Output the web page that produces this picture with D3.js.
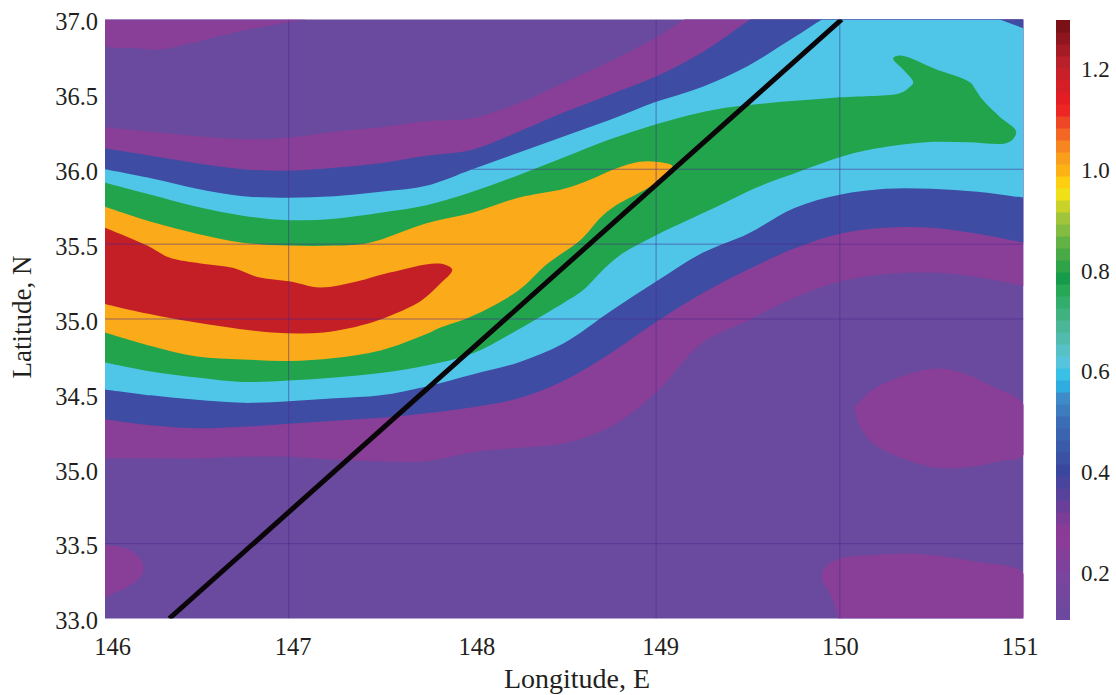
<!DOCTYPE html>
<html>
<head>
<meta charset="utf-8">
<script src="https://cdn.jsdelivr.net/npm/d3@7"></script>
<style>
html,body{margin:0;padding:0;background:#fff;}
text{font-family:"Liberation Serif",serif;fill:#231f20;}
</style>
</head>
<body>
<div id="chart"></div>
<script>
// tick labels, the "35.0" in the third slot from the bottom is in the original figure
var lonTicks = [146,147,148,149,150,151];
var latTicks = [33,33.5,34,34.5,35,35.5,36,36.5,37];
var latLabels = ["33.0","33.5","35.0","34.5","35.0","35.5","36.0","36.5","37.0"];
var barTicks = [0.2,0.4,0.6,0.8,1.0,1.2];
var gridLons = [147,149,150];
var gridLats = [33,33.5,35,35.5,36,37];
var gridLatStart = [146,146,146,146,148,146];

// long isolines, latitude read every 0.25 degree of longitude
var lonGrid = [146,146.25,146.5,146.75,147,147.25,147.5,147.75,148,148.25,148.5,148.75,149,149.25,149.5,149.75,150,150.25,150.5,150.75,151];
var magentaTop = [36.28,36.25,36.22,36.20,36.21,36.25,36.28,36.32,36.34,36.44,36.58,36.72,36.88,37.08,37.3,37.3,37.3,37.3,37.3,37.3,37.3];
var magentaBottom = [34.07,34.07,34.07,34.08,34.08,34.06,34.05,34.05,34.11,34.14,34.17,34.28,34.51,34.84,34.99,35.14,35.25,35.30,35.31,35.28,35.22];
var blueTop = [36.14,36.09,36.04,36.00,35.99,36.01,36.04,36.09,36.13,36.25,36.38,36.50,36.62,36.78,36.99,37.2,37.3,37.3,37.3,37.3,37.3];
var blueBottom = [34.33,34.29,34.27,34.28,34.30,34.32,34.34,34.37,34.41,34.47,34.59,34.77,34.98,35.17,35.33,35.47,35.57,35.61,35.61,35.57,35.51];
var cyanTop = [36.00,35.94,35.87,35.82,35.81,35.82,35.85,35.89,36.00,36.11,36.22,36.33,36.45,36.55,36.69,36.88,37.06,37.12,37.12,37.05,36.94];
var cyanBottom = [34.53,34.49,34.46,34.44,34.45,34.47,34.49,34.55,34.63,34.71,34.84,35.05,35.25,35.44,35.57,35.74,35.83,35.87,35.87,35.85,35.81];

// closed shapes as [lon, lat]
var greenShape = [[146,35.91],[146.25,35.83],[146.5,35.75],[146.75,35.69],[147,35.66],[147.25,35.67],[147.5,35.71],[147.75,35.76],[148,35.85],[148.25,35.96],[148.5,36.08],[148.75,36.20],[149,36.30],[149.25,36.38],[149.44,36.42],[150,36.48],[150.33,36.51],[150.38,36.55],[150.40,36.58],[150.35,36.66],[150.29,36.74],[150.33,36.76],[150.52,36.67],[150.71,36.58],[150.74,36.53],[150.78,36.46],[150.87,36.35],[150.96,36.25],[150.92,36.18],[150.70,36.18],[150.47,36.18],[150.16,36.13],[150,36.08],[149.77,35.98],[149.55,35.88],[149.33,35.75],[149,35.56],[148.82,35.44],[148.73,35.35],[148.60,35.19],[148.5,35.11],[148.25,34.93],[148,34.77],[147.75,34.69],[147.5,34.64],[147.25,34.61],[147,34.59],[146.75,34.58],[146.5,34.61],[146.25,34.65],[146,34.71]];
var orangeShape = [[146,35.75],[146.25,35.65],[146.5,35.57],[146.75,35.51],[147,35.49],[147.25,35.49],[147.44,35.51],[147.75,35.64],[148,35.71],[148.25,35.81],[148.5,35.87],[148.64,35.93],[148.77,36.00],[148.91,36.05],[149,36.05],[149.09,36.02],[149,35.91],[148.77,35.75],[148.70,35.68],[148.59,35.53],[148.41,35.37],[148.25,35.19],[148,35.02],[147.82,34.94],[147.75,34.90],[147.5,34.79],[147.25,34.74],[147,34.72],[146.75,34.73],[146.5,34.75],[146.25,34.82],[146,34.91]];
var redShape = [[146,35.61],[146.23,35.49],[146.35,35.41],[146.52,35.37],[146.70,35.34],[146.83,35.28],[147.01,35.25],[147.17,35.21],[147.37,35.25],[147.55,35.31],[147.82,35.37],[147.89,35.33],[147.82,35.23],[147.73,35.13],[147.66,35.08],[147.46,34.98],[147.19,34.91],[146.91,34.91],[146.64,34.95],[146.34,35.01],[146.10,35.07],[146,35.10]];
var topPatch = [[146,37],[146,36.83],[146.15,36.81],[146.30,36.80],[146.46,36.84],[146.73,36.92],[146.99,36.98],[147.10,37]];
var leftPatch = [[146,33.49],[146.13,33.46],[146.20,33.38],[146.21,33.32],[146.16,33.24],[146.07,33.18],[146,33.14]];
var ovalPatch = [[150.08,34.41],[150.18,34.53],[150.37,34.63],[150.53,34.67],[150.67,34.64],[150.83,34.55],[151,34.43],[151,34.09],[150.87,34.05],[150.69,34.01],[150.51,34.01],[150.34,34.07],[150.18,34.17],[150.10,34.31],[150.08,34.41]];
var cornerPatch = [[149.99,33],[149.97,33.10],[149.93,33.20],[149.90,33.27],[149.92,33.34],[150,33.40],[150.13,33.42],[150.44,33.43],[150.73,33.38],[151,33.30],[151,33]];
var trackLine = [[146.35,33],[150.01,37]];

// colour bar stops
var barValues = [0.105,0.2,0.277,0.4,0.5,0.547,0.58,0.62,0.684,0.766,0.78,0.85,0.905,0.96,0.99,1.035,1.09,1.125,1.215,1.296];
var barColors = ["#6a4a9e","#7b449e","#8f3a96","#3a469e","#3a6eb5","#3f8ccb","#28bdeb","#5bc5dc","#4db89a","#24a750","#129a4a","#5bb046","#a4c63a","#ffe510","#fdb813","#f99520","#ef4b25","#ed1c24","#b9202a","#6e0f14"];

function init(){
    var w = 1116, h = 695;
    var left = 105, right = 1023.5, top = 19.5, bottom = 618.5;

    var svg = d3.select("#chart").append("svg")
        .attr("width",w)
        .attr("height",h)
        .style("display","block");

    var xScale = d3.scaleLinear().domain([146,151]).range([left,right]);
    var yScale = d3.scaleLinear().domain([33,37]).range([bottom,top]);

    svg.append("clipPath").attr("id","plot")
        .append("rect")
        .attr("x",left).attr("y",top)
        .attr("width",right-left).attr("height",bottom-top);

    var plot = svg.append("g").attr("clip-path","url(#plot)");

    plot.append("rect")
        .attr("x",left).attr("y",top)
        .attr("width",right-left).attr("height",bottom-top)
        .attr("fill","#6a4a9e");

    var curve = d3.curveCatmullRom.alpha(0.5);

    var band = function(upper,lower,color){
        var area = d3.area()
            .x(function(d,i){ return xScale(lonGrid[i]); })
            .y0(function(d,i){ return yScale(lower[i]); })
            .y1(function(d,i){ return yScale(upper[i]); })
            .curve(curve);
        plot.append("path").attr("d",area(lonGrid)).attr("fill",color);
    };

    var shape = function(points,color){
        var line = d3.line()
            .x(function(d){ return xScale(d[0]); })
            .y(function(d){ return yScale(d[1]); })
            .curve(curve);
        plot.append("path").attr("d",line(points)+"Z").attr("fill",color);
    };

    shape(topPatch,"#893f97");
    shape(leftPatch,"#893f97");
    shape(ovalPatch,"#893f97");
    shape(cornerPatch,"#893f97");
    band(magentaTop,magentaBottom,"#893f97");
    band(blueTop,blueBottom,"#3f4ca3");
    band(cyanTop,cyanBottom,"#4fc6e8");
    shape(greenShape,"#21a44b");
    shape(orangeShape,"#fbaa19");
    shape(redShape,"#c41e26");

    // thin grid, only some lines are there in the original
    plot.selectAll("line.vgrid")
        .data(gridLons)
        .enter()
        .append("line")
        .attr("class","vgrid")
        .attr("x1",function(d){ return xScale(d); })
        .attr("x2",function(d){ return xScale(d); })
        .attr("y1",top)
        .attr("y2",bottom)
        .attr("stroke","#4a2a90")
        .attr("stroke-opacity",0.55);

    plot.selectAll("line.hgrid")
        .data(gridLats)
        .enter()
        .append("line")
        .attr("class","hgrid")
        .attr("x1",function(d,i){ return xScale(gridLatStart[i]); })
        .attr("x2",right)
        .attr("y1",function(d){ return yScale(d); })
        .attr("y2",function(d){ return yScale(d); })
        .attr("stroke","#4a2a90")
        .attr("stroke-opacity",0.55);

    plot.append("path")
        .attr("d",d3.line()
            .x(function(d){ return xScale(d[0]); })
            .y(function(d){ return yScale(d[1]); })(trackLine))
        .attr("fill","none")
        .attr("stroke","#0a0508")
        .attr("stroke-width",5);

    // axes
    var xAxis = d3.axisBottom(xScale)
        .tickValues(lonTicks)
        .tickSize(0)
        .tickFormat(d3.format("d"));
    var xShift = [7,4,4,4,0,-4];
    var xg = svg.append("g")
        .attr("transform","translate(0,"+(bottom+16)+")")
        .call(xAxis);
    xg.select(".domain").remove();
    xg.selectAll("text")
        .attr("dx",function(d,i){ return xShift[i]; })
        .style("font-family",'"Liberation Serif",serif')
        .style("font-size","24.5px")
        .attr("fill","#231f20");

    var yAxis = d3.axisLeft(yScale)
        .tickValues(latTicks)
        .tickSize(0)
        .tickFormat(function(d,i){ return latLabels[i]; });
    var yg = svg.append("g")
        .attr("transform","translate("+(left-7)+",0)")
        .call(yAxis);
    yg.select(".domain").remove();
    yg.selectAll("text")
        .attr("x",0)
        .attr("dy","0.42em")
        .style("font-family",'"Liberation Serif",serif')
        .style("font-size","24.5px")
        .attr("fill","#231f20");

    svg.append("text")
        .attr("x",577)
        .attr("y",688)
        .attr("text-anchor","middle")
        .style("font-size","28px")
        .text("Longitude, E");

    svg.append("text")
        .attr("transform","translate(31,317) rotate(-90)")
        .attr("text-anchor","middle")
        .style("font-size","27px")
        .text("Latitude, N");

    // colour bar, drawn in 50 flat steps like the original
    var barX = 1056, barW = 14, barTop = 20, barBottom = 620;
    var barMin = 0.105, barMax = 1.296, barCount = 50;
    var barStep = (barMax-barMin)/barCount;
    var barScale = d3.scaleLinear().domain([barMin,barMax]).range([barBottom,barTop]);
    var barColor = d3.scaleLinear().domain(barValues).range(barColors);
    var barG = svg.append("g");
    barG.selectAll("rect")
        .data(d3.range(barCount))
        .enter()
        .append("rect")
        .attr("x",barX)
        .attr("y",function(d){ return barScale(barMin+(d+1)*barStep); })
        .attr("width",barW)
        .attr("height",function(d){ return barScale(barMin+d*barStep)-barScale(barMin+(d+1)*barStep)+(d>0?0.5:0); })
        .attr("fill",function(d){ return barColor(barMin+(d+0.5)*barStep); });

    var barAxis = d3.axisRight(barScale)
        .tickValues(barTicks)
        .tickSize(0)
        .tickFormat(d3.format(".1f"));
    var bg = svg.append("g")
        .attr("transform","translate("+(barX+barW+11)+",0)")
        .call(barAxis);
    bg.select(".domain").remove();
    bg.selectAll("text")
        .attr("x",0)
        .attr("dy","0.36em")
        .style("font-family",'"Liberation Serif",serif')
        .style("font-size","23px")
        .attr("fill","#231f20");
}

window.onload=init;
</script>
</body>
</html>
